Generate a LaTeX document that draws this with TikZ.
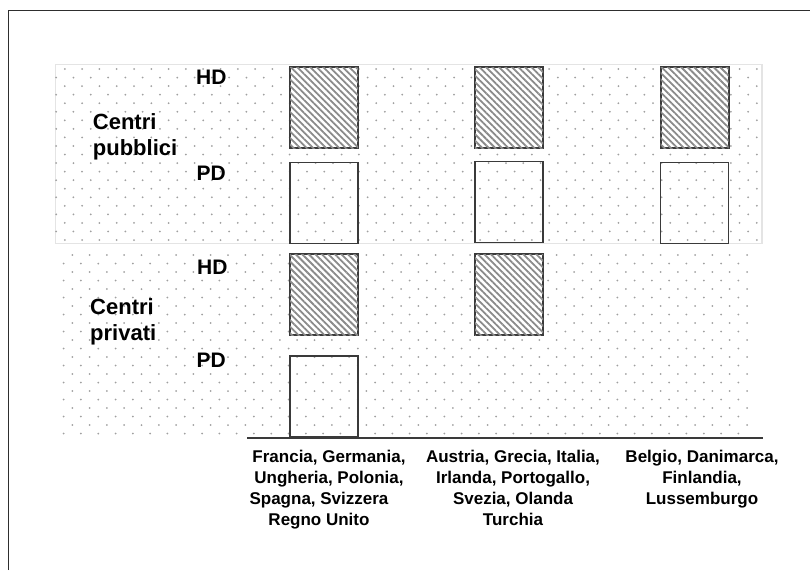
\documentclass[tikz,border=0pt]{standalone}
\usepackage{fontspec}
\setmainfont{Liberation Sans}
\usetikzlibrary{patterns.meta}

\definecolor{frameline}{HTML}{2E2E2E}
\definecolor{dotgray}{HTML}{A0A0A0}
\definecolor{panelline}{HTML}{E4E4E4}
\definecolor{boxline}{HTML}{3A3A3A}
\definecolor{hatchgray}{HTML}{8A8A8A}

\begin{document}
\begin{tikzpicture}[x=1pt,y=-1pt,
  hdbox/.style={draw=boxline, line width=2pt, fill=white,
    postaction={pattern={Lines[angle=-45,distance=4.6pt,line width=1.8pt]},
                pattern color=hatchgray},
    minimum width=68pt, minimum height=81pt, inner sep=0pt},
  pdbox/.style={draw=boxline, line width=1.2pt,
    minimum width=68pt, minimum height=81pt, inner sep=0pt},
  rowlabel/.style={font=\fontsize{21}{25}\selectfont\bfseries, inner sep=0pt, anchor=base west},
  grouplabel/.style={font=\fontsize{22}{26.7}\selectfont\bfseries, inner sep=0pt,
    align=left, anchor=north west},
  countries/.style={font=\fontsize{17}{21}\selectfont\bfseries, inner sep=0pt,
    align=center, anchor=north},
  dot/.style={fill=dotgray}]

\useasboundingbox (0,0) rectangle (810,570);

% outer frame (only its left and top edges fall inside the page)
\draw[frameline, line width=1.3pt] (8.5,570) -- (8.5,10.5) -- (810,10.5);

% panels with staggered dot grid
\draw[panelline, line width=1.5pt, fill=white] (55.5,64.5) rectangle (762,243.5);
\foreach \r in {0,...,20} {
  \pgfmathsetmacro\yy{69+8.55*\r}
  \pgfmathsetmacro\xo{ifthenelse(mod(\r,2)==0,64.8,56.15)}
  \foreach \c in {0,...,40} { \fill[dot] (\xo+17.3*\c,\yy) circle (1pt); }
}
\foreach \r in {0,...,21} {
  \pgfmathsetmacro\yy{255+8.5*\r}
  \pgfmathsetmacro\xo{ifthenelse(mod(\r,2)==0,72.3,63.65)}
  \foreach \c in {0,...,39} { \fill[dot] (\xo+17.3*\c,\yy) circle (1pt); }
}

% public centres
\node[hdbox] (pubHD1) at (324,107.5) {};
\node[hdbox] (pubHD2) at (509,107.5) {};
\node[hdbox] (pubHD3) at (694.5,107.5) {};
\node[pdbox] (pubPD1) at (324,202.7) {};
\node[pdbox] (pubPD2) at (509,202) {};
\node[pdbox] (pubPD3) at (694.5,203.3) {};

% private centres
\node[hdbox] (privHD1) at (324,294.5) {};
\node[hdbox] (privHD2) at (509,294.5) {};
\node[pdbox] (privPD1) at (324,396.5) {};

% row labels
\node[rowlabel] (lblPubHD) at (196,84.3) {HD};
\node[rowlabel] (lblPubPD) at (196.5,180.7) {PD};
\node[rowlabel] (lblPrivHD) at (197,274) {HD};
\node[rowlabel] (lblPrivPD) at (196.5,367.3) {PD};

\node[grouplabel] (grpPub) at (92.7,113) {Centri\\pubblici};
\node[grouplabel] (grpPriv) at (90,298) {Centri\\privati};

% axis
\coordinate (axisL) at (247,437.5);
\coordinate (axisR) at (763,437.5);
\draw[boxline, line width=2pt] (axisL) -- (axisR);

% country groups
\node[countries] (col1) at (329,450) {Francia, Germania,\\Ungheria, Polonia,\\Spagna, Svizzera\hspace*{20pt}\mbox{}\\Regno Unito\hspace*{20pt}\mbox{}};
\node[countries] (col2) at (513,450) {Austria, Grecia, Italia,\\Irlanda, Portogallo,\\Svezia, Olanda\\Turchia};
\node[countries] (col3) at (702,450) {Belgio, Danimarca,\\Finlandia,\\Lussemburgo};
\end{tikzpicture}
\end{document}
